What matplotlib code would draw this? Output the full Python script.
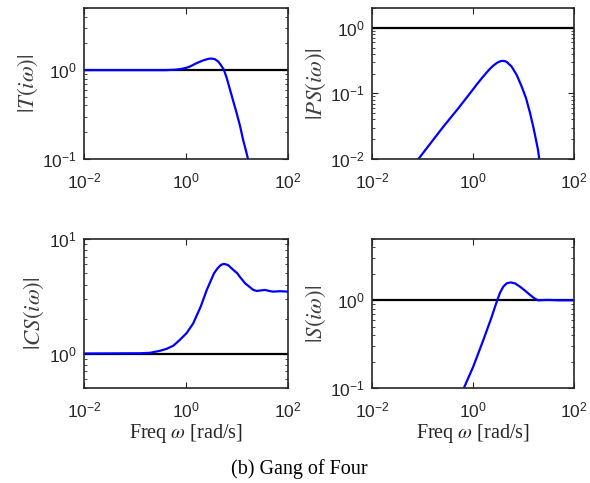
import numpy as np
import matplotlib.pyplot as plt
from matplotlib.ticker import LogLocator, NullLocator

plt.rcParams['font.family'] = ['Liberation Sans', 'DejaVu Sans']
plt.rcParams['mathtext.fontset'] = 'stix'
plt.rcParams['axes.unicode_minus'] = False

# |T(iw)|, complementary sensitivity
T_W = [0.01, 0.1, 0.4, 0.6, 0.8, 1.0, 1.2, 1.62, 2.19, 2.74, 3.16, 3.67, 4.27, 4.83,
       5.56, 6.3, 7.3, 8.5, 9.8, 11.5, 13.2, 14.8, 16.4, 18.0]
T_MAG = [1.0, 1.0, 1.0, 1.01, 1.03, 1.06, 1.1, 1.2, 1.29, 1.34, 1.35, 1.33, 1.25, 1.14,
         1.0, 0.81, 0.60, 0.44, 0.33, 0.233, 0.163, 0.127, 0.1, 0.08]

# |PS(iw)|, load sensitivity
PS_W = [0.07, 0.083, 0.258, 0.5, 0.87, 1.18, 1.5, 1.86, 2.2, 2.51, 2.95, 3.17, 3.5, 3.8, 4.2, 4.64, 5.8,
        7.33, 9.2, 11.2, 13.5, 15.6, 17.7, 19.4, 20.5, 22.0]
PS_MAG = [0.0085, 0.01, 0.031, 0.058, 0.1, 0.136, 0.171, 0.208, 0.24, 0.264, 0.29, 0.30, 0.309, 0.313, 0.311, 0.302, 0.257,
          0.191, 0.127, 0.085, 0.05, 0.031, 0.0195, 0.0137, 0.01, 0.008]

# |CS(iw)|, noise sensitivity
CS_W = [0.01, 0.126, 0.197, 0.31, 0.418, 0.564, 0.762, 1.03, 1.39, 1.94, 2.55, 3.54, 4.1, 4.64, 5.1, 5.56,
        6.1, 6.76, 8.47, 10.1, 11.5, 14.4, 20.9, 24.3, 35.3, 45.0, 51.6, 70.0, 100.0]
CS_MAG = [1.0, 1.005, 1.014, 1.057, 1.10, 1.17, 1.32, 1.51, 1.84, 2.57, 3.59, 5.02, 5.5, 5.85, 6.0, 6.05,
          6.0, 5.89, 5.37, 5.02, 4.64, 4.1, 3.59, 3.52, 3.59, 3.5, 3.47, 3.5, 3.47]

# |S(iw)|, sensitivity
S_W = [0.6, 0.66, 1.01, 1.6, 2.34, 2.73, 3.02, 3.43, 3.98, 4.64, 5.57, 6.79, 8.5, 10.7,
       13.5, 16.9, 19.6, 30.0, 50.0, 100.0]
S_MAG = [0.09, 0.1, 0.175, 0.352, 0.645, 0.845, 1.0, 1.22, 1.43, 1.56, 1.60, 1.56, 1.43, 1.29,
         1.15, 1.04, 1.0, 1.01, 1.0, 1.0]

XLIM = (1e-2, 1e2)
PANELS = [
    (T_W, T_MAG, r'$|T(i\omega)|$', (0.1, 5)),
    (PS_W, PS_MAG, r'$|PS(i\omega)|$', (0.01, 2)),
    (CS_W, CS_MAG, r'$|CS(i\omega)|$', (0.5, 10)),
    (S_W, S_MAG, r'$|S(i\omega)|$', (0.1, 5)),
]
POS = [
    [0.1424, 0.6708, 0.3458, 0.3126],
    [0.6305, 0.6708, 0.3424, 0.3126],
    [0.1424, 0.1967, 0.3458, 0.3085],
    [0.6305, 0.1967, 0.3424, 0.3085],
]

fig = plt.figure(figsize=(5.9, 4.83), dpi=100)
dark = '#262626'

for i, (w, mag, label, ylim) in enumerate(PANELS):
    ax = fig.add_axes(POS[i])
    ax.loglog(XLIM, [1, 1], color='black', lw=1.6, solid_capstyle='butt')
    ax.loglog(w, mag, color='#0000ff', lw=1.6)
    ax.set_xlim(*XLIM)
    ax.set_ylim(*ylim)
    ax.set_xticks([1e-2, 1e0, 1e2])
    ax.xaxis.set_minor_locator(NullLocator())
    ax.yaxis.set_minor_locator(LogLocator(base=10, subs=np.arange(2, 10)))
    ax.tick_params(which='both', direction='in', top=True, right=True,
                   colors=dark, labelcolor=dark, labelsize=12.5)
    ax.tick_params(axis='x', pad=9)
    ax.tick_params(axis='y', pad=5)
    ax.tick_params(which='major', length=4, width=0.8)
    ax.tick_params(which='minor', length=2, width=0.6)
    for s in ax.spines.values():
        s.set_linewidth(1.2)
        s.set_color(dark)
    ax.set_ylabel(label, fontsize=16.5, color='#404040', labelpad=2)
    if i >= 2:
        ax.set_xlabel(r'Freq $\omega$ [rad/s]', family='Liberation Serif',
                      fontsize=14.5, color=dark, labelpad=1)

fig.text(0.508, 0.028, '(b) Gang of Four', family='Liberation Serif',
         fontsize=14.5, ha='center', va='center', color='black')

fig.savefig('out.png', dpi=100)
